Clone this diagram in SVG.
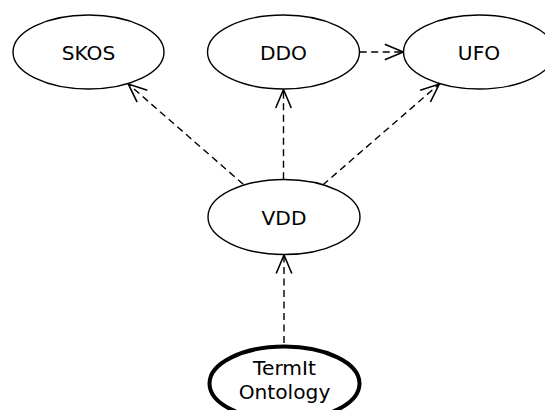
<svg xmlns="http://www.w3.org/2000/svg" width="545" height="410" viewBox="0 0 545 410">
<style>
.node ellipse{fill:#fff;stroke:#000;stroke-width:1.4}
.node.bold ellipse{stroke-width:4}
.node text{font-family:"DejaVu Sans",sans-serif;font-size:20.2px;fill:#000;text-anchor:middle}
.edge{fill:none;stroke:#000;stroke-width:1.4;stroke-dasharray:7 4.5;marker-end:url(#open)}
</style>
<defs>
<marker id="open" markerUnits="userSpaceOnUse" markerWidth="40" markerHeight="40" refX="0" refY="0" orient="auto" overflow="visible">
<path d="M-18.5,-7.8 L0,0 L-18.5,7.8" fill="none" stroke="#000" stroke-width="1.6" stroke-dasharray="none"/>
</marker>
</defs>
<rect width="545" height="410" fill="#fff"/>
<g id="connectors">
<path class="edge" d="M359.7,52 L403.3,52"/>
<path class="edge" d="M243.3,184.3 L128.3,84"/>
<path class="edge" d="M283.5,179.3 L283.5,89.5"/>
<path class="edge" d="M322.7,185 L439.3,84"/>
<path class="edge" d="M284,343 L284,255"/>
</g>
<g id="skos" class="node"><ellipse cx="88.5" cy="52" rx="75.5" ry="37"/><text x="88.5" y="60">SKOS</text></g>
<g id="ddo" class="node"><ellipse cx="283.5" cy="52" rx="76" ry="37"/><text x="283.5" y="60">DDO</text></g>
<g id="ufo" class="node"><ellipse cx="479" cy="52" rx="75.5" ry="37"/><text x="479" y="60">UFO</text></g>
<g id="vdd" class="node"><ellipse cx="284" cy="217" rx="76" ry="37.5"/><text x="284" y="224.5">VDD</text></g>
<g id="termit" class="node bold"><ellipse cx="284.5" cy="383.5" rx="75" ry="37"/><text x="284.5" y="375">TermIt</text><text x="284.5" y="398.5">Ontology</text></g>
</svg>
